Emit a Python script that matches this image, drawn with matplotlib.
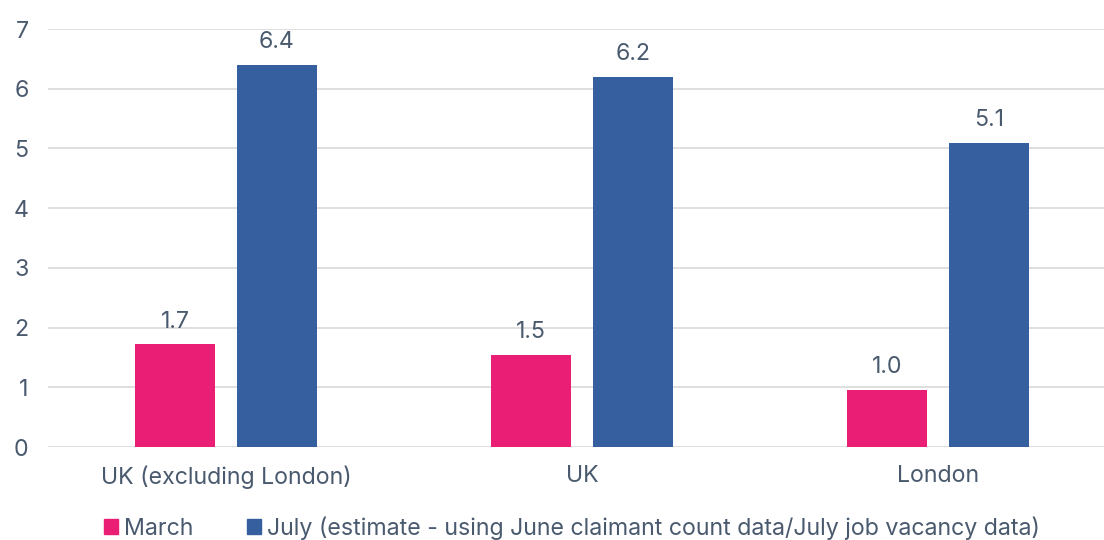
import matplotlib
matplotlib.use("Agg")
import matplotlib.pyplot as plt
from matplotlib.patches import Patch
import numpy as np

# Data
categories = ["UK (excluding London)", "UK", "London"]
march = [1.72, 1.54, 0.96]
july = [6.40, 6.20, 5.09]
series_names = ["March",
                "July (estimate - using June claimant count data/July job vacancy data)"]
y_ticks = [0, 1, 2, 3, 4, 5, 6, 7]

pink = "#E91E74"
blue = "#355F9E"
text_col = "#4A5A6E"
grid_col = "#D9D9D9"
fsize = 16.7

plt.rcParams['font.family'] = ['Inter', 'DejaVu Sans']

fig = plt.figure(figsize=(11.04, 5.40), dpi=100)
ax = fig.add_axes([48 / 1104, 93 / 540, 1 - 48 / 1104, 418 / 540])

x = np.arange(len(categories))
width = 0.225
offset = 0.143

bars_m = ax.bar(x - offset, march, width, color=pink, zorder=3)
bars_j = ax.bar(x + offset, july, width, color=blue, zorder=3)

# Value labels above each bar
for bars in (bars_m, bars_j):
    for b in bars:
        ax.annotate(f"{b.get_height():.1f}",
                    (b.get_x() + b.get_width() / 2, b.get_height()),
                    xytext=(0, 12), textcoords="offset points",
                    ha="center", va="baseline", fontsize=fsize, color=text_col)

ax.set_ylim(0, 7)
ax.set_xlim(-0.5, 2.5 - 12 / 356)
ax.set_yticks(y_ticks)
ax.set_xticks(x)
ax.set_xticklabels(categories)
ax.tick_params(axis="both", length=0, labelsize=fsize, labelcolor=text_col)
ax.tick_params(axis="y", pad=14)
ax.tick_params(axis="x", pad=13)
ax.yaxis.grid(True, color=grid_col, linewidth=1.2, zorder=0)
for s in ax.spines.values():
    s.set_visible(False)

handles = [Patch(color=pink), Patch(color=blue)]
fig.legend(handles, series_names, loc="center", bbox_to_anchor=(0.518, 0.022),
           ncol=2, frameon=False, fontsize=fsize, labelcolor=text_col,
           handlelength=0.6, handleheight=0.6, handletextpad=0.25,
           columnspacing=2.3)

fig.savefig("out.png", dpi=100)
